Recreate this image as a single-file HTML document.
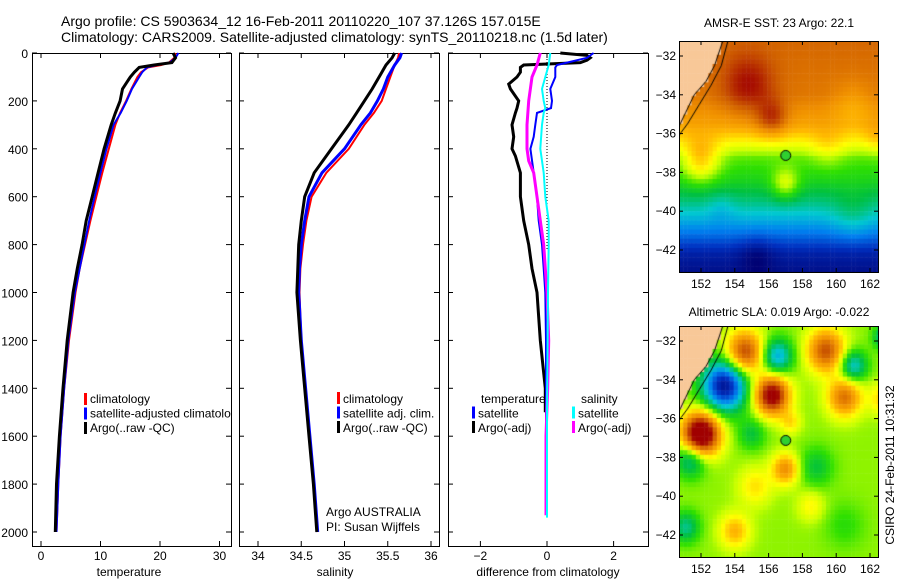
<!DOCTYPE html>
<html><head><meta charset="utf-8"><style>
html,body{margin:0;padding:0;background:#fff;}
#wrap{position:relative;width:900px;height:580px;overflow:hidden;font-family:"Liberation Sans",sans-serif;}
svg text{font-family:"Liberation Sans",sans-serif;}
canvas{position:absolute;}
</style></head><body>
<div id="wrap">
<canvas id="sst" width="200" height="231" style="left:679px;top:41px"></canvas>
<canvas id="sla" width="200" height="231" style="left:679px;top:326px"></canvas>
<svg id="fig" width="900" height="580" style="position:absolute;left:0;top:0" xmlns="http://www.w3.org/2000/svg">
<text x="61" y="26" font-size="14">Argo profile: CS 5903634_12 16-Feb-2011 20110220_107 37.126S 157.015E</text>
<text x="61" y="42" font-size="14">Climatology: CARS2009. Satellite-adjusted climatology: synTS_20110218.nc (1.5d later)</text>
<text x="779" y="27" font-size="12" text-anchor="middle">AMSR-E SST: 23 Argo: 22.1</text>
<text x="779" y="316" font-size="12" text-anchor="middle">Altimetric SLA: 0.019 Argo: -0.022</text>
<text x="0" y="0" font-size="12" text-anchor="middle" transform="translate(894,465) rotate(-90)">CSIRO 24-Feb-2011 10:31:32</text>
<g id="g"></g>
</svg>
</div>
<script>
// ---- data ----
const tDepth=[0,20,40,50,60,80,100,150,200,250,300,400,500,600,700,800,900,1000,1200,1400,1600,1800,2000];
const climT=[22.6,22.4,21.5,20.2,18.0,16.8,16.2,15.2,14.3,13.3,12.5,11.4,10.3,9.3,8.3,7.4,6.5,5.8,4.7,3.9,3.3,2.9,2.6];
const satT=[23.1,22.6,21.6,19.5,17.8,17.0,16.5,15.3,14.4,13.4,12.2,11.0,10.0,9.0,8.1,7.3,6.5,5.7,4.6,3.9,3.3,2.9,2.6];
const argoT=[22.2,22.6,22.0,19.0,16.5,15.7,15.0,13.7,13.3,12.5,11.8,10.6,9.6,8.6,7.6,6.9,6.1,5.4,4.4,3.7,3.1,2.6,2.4];
const sDepth=[0,20,50,100,150,200,250,300,400,500,600,700,800,900,1000,1200,1400,1600,1800,2000];
const climS=[35.63,35.62,35.58,35.53,35.48,35.43,35.34,35.23,35.05,34.79,34.62,34.56,34.52,34.49,34.48,34.5,34.55,34.6,34.65,34.69];
const satS=[35.66,35.64,35.58,35.50,35.45,35.38,35.30,35.19,35.00,34.74,34.59,34.54,34.50,34.48,34.47,34.5,34.55,34.6,34.65,34.69];
const argoS=[35.58,35.55,35.48,35.40,35.32,35.23,35.14,35.05,34.85,34.65,34.54,34.50,34.47,34.46,34.45,34.49,34.54,34.59,34.64,34.68];
const dArgoTDepth=[0,10,20,30,40,50,60,80,100,130,150,200,230,250,300,350,400,430,500,600,700,800,900,1000,1200,1400,1500];
const dArgoT=[0.4,1.2,1.3,1.2,1.0,-0.7,-0.8,-0.8,-0.9,-1.15,-1.1,-0.85,-0.9,-0.95,-1.05,-1.0,-1.05,-0.95,-0.8,-0.8,-0.7,-0.55,-0.45,-0.3,-0.2,-0.05,-0.05];
const dSatTDepth=[0,20,40,50,60,100,150,200,230,250,300,350,400,500,600,700,800,900,1000,1200,1400,1650];
const dSatT=[1.4,1.2,0.6,0.3,0.25,0.25,0.1,0.15,0.12,-0.3,-0.35,-0.4,-0.5,-0.4,-0.3,-0.25,-0.15,-0.1,-0.05,-0.03,-0.03,-0.03];
const dArgoSDepth=[0,50,100,200,300,400,450,500,600,700,800,900,1000,1200,1400,1600,1800,1930];
const dArgoS=[-0.2,-0.3,-0.45,-0.55,-0.6,-0.6,-0.55,-0.4,-0.3,-0.2,-0.1,-0.05,0,0.05,0.02,-0.03,-0.03,-0.03];
const dSatSDepth=[0,50,100,150,200,230,250,300,400,500,600,700,800,1000,1500,1940];
const dSatS=[0.1,0.05,-0.05,-0.15,-0.1,-0.05,-0.1,-0.15,-0.2,-0.1,-0.05,0.05,0.05,0.03,0.0,0.0];
const depthTicks=[0,200,400,600,800,1000,1200,1400,1600,1800,2000];
const tempTicks=[0,10,20,30];
const salTicks=[34,34.5,35,35.5,36];
const diffTicks=[-2,0,2];
const lonTicks=[152,154,156,158,160,162];
const latTicks=[-32,-34,-36,-38,-40,-42];

// ---- scales ----
const yD=d=>53+d*0.2395;
const xT=t=>41+t*5.95;
const xS=s=>258+(s-34)*86.5;
const xDf=v=>547+v*33.3;
const NS='http://www.w3.org/2000/svg';
const G=document.getElementById('g');
function el(tag,attrs,parent){const e=document.createElementNS(NS,tag);for(const k in attrs)e.setAttribute(k,attrs[k]);(parent||G).appendChild(e);return e;}
function line(xs,ys,col,w,name){
  const pts=xs.map((x,i)=>x.toFixed(1)+','+ys[i].toFixed(1)).join(' ');
  const p=el('polyline',{points:pts,fill:'none',stroke:col,'stroke-width':w,'stroke-linejoin':'miter'});
  
  
}
function txt(x,y,s,anchor,size,name){
  const t=el('text',{x:x,y:y,'font-size':size||12,'text-anchor':anchor||'start'});t.textContent=s;
  
  
  return t;
}
function frame(x0,x1,y0,y1,name,xticks,xf,yticks,yf,ylabels,ylx){
  const r=el('rect',{x:x0+0.5,y:y0+0.5,width:x1-x0,height:y1-y0,fill:'none',stroke:'#000','stroke-width':1});
  
  
  xticks.forEach(v=>{const x=xf(v);el('line',{x1:x,x2:x,y1:y1,y2:y1-5,stroke:'#000'});el('line',{x1:x,x2:x,y1:y0,y2:y0+5,stroke:'#000'});
    txt(x,y1+14,String(v).replace('-','\u2212'),'middle',12,'x-tick-label');});
  yticks.forEach(v=>{const y=yf(v);el('line',{x1:x0,x2:x0+5,y1:y,y2:y,stroke:'#000'});el('line',{x1:x1-5,x2:x1,y1:y,y2:y,stroke:'#000'});
    if(ylabels) txt(ylx,y+5,String(v).replace('-','\u2212'),'end',12,'y-tick-label');});
}
// panel 1
frame(32,231,53,546,'temperature-panel',tempTicks,xT,depthTicks,yD,true,28);
line(climT.map(xT),tDepth.map(yD),'#ff0000',2,'climatology-temp-line');
line(satT.map(xT),tDepth.map(yD),'#0000ff',2,'satellite-temp-line');
line(argoT.map(xT),tDepth.map(yD),'#000',3,'argo-temp-line');
txt(129,576,'temperature','middle',12,'x-axis-title-temperature');
// panel 2
frame(239,439,53,546,'salinity-panel',salTicks,xS,depthTicks,yD,false,0);
line(climS.map(xS),sDepth.map(yD),'#ff0000',2,'climatology-salinity-line');
line(satS.map(xS),sDepth.map(yD),'#0000ff',3,'satellite-salinity-line');
line(argoS.map(xS),sDepth.map(yD),'#000',3,'argo-salinity-line');
txt(335,576,'salinity','middle',12,'x-axis-title-salinity');
// panel 3
frame(448,648,53,546,'difference-panel',diffTicks,xDf,depthTicks,yD,false,0);
el('line',{x1:xDf(0),x2:xDf(0),y1:yD(0),y2:yD(820),stroke:'#000','stroke-dasharray':'1,2'});
line(dArgoT.map(xDf),dArgoTDepth.map(yD),'#000',3,'argo-temp-diff-line');
line(dSatT.map(xDf),dSatTDepth.map(yD),'#0000ff',2,'satellite-temp-diff-line');
line(dArgoS.map(xDf),dArgoSDepth.map(yD),'#ff00ff',3,'argo-salinity-diff-line');
line(dSatS.map(xDf),dSatSDepth.map(yD),'#00ffff',2,'satellite-salinity-diff-line');
txt(548,576,'difference from climatology','middle',12,'x-axis-title-difference');
// legends
function legItem(x,y,col,label,name){const r=el('rect',{x:x,y:y-11,width:3,height:12,fill:col});
  
  txt(x+6,y,label,'start',12,name+'-label');}
const g1=el('svg',{x:32,y:53,width:199,height:493,overflow:'hidden'});
['climatology','satellite-adjusted climatology','Argo(..raw -QC)'].forEach((s,i)=>{
  const c=['#ff0000','#0000ff','#000'][i];
  const r=el('rect',{x:52,y:340+i*14.5,width:3,height:12,fill:c},g1);
  
  const t=el('text',{x:58,y:350+i*14.5,'font-size':12},g1);t.textContent=s;
  
});
legItem(337,403,'#ff0000','climatology','legend-climatology-2');
legItem(337,417.5,'#0000ff','satellite adj. clim.','legend-satellite-2');
legItem(337,432,'#000','Argo(..raw -QC)','legend-argo-2');
txt(326,516,'Argo AUSTRALIA','start',12,'argo-australia-label');
txt(326,531,'PI: Susan Wijffels','start',12,'pi-label');
txt(481,403,'temperature','start',12,'legend-temperature-header');
txt(581,403,'salinity','start',12,'legend-salinity-header');
legItem(472,417.5,'#0000ff','satellite','legend-temp-satellite');
legItem(472,432,'#000','Argo(-adj)','legend-temp-argo');
legItem(572,417.5,'#00ffff','satellite','legend-sal-satellite');
legItem(572,432,'#ff00ff','Argo(-adj)','legend-sal-argo');

// ---- maps ----
const lonF=(lon)=>701+(lon-152)*16.9;
function mapAxes(x0,x1,y0,y1,latY,name){
  const r=el('rect',{x:x0+0.5,y:y0+0.5,width:x1-x0,height:y1-y0,fill:'none',stroke:'#000'});
  
  lonTicks.forEach(v=>{const x=lonF(v);el('line',{x1:x,x2:x,y1:y1,y2:y1-4,stroke:'#000'});el('line',{x1:x,x2:x,y1:y0,y2:y0+4,stroke:'#000'});
    txt(x,y1+16,String(v),'middle',12,'lon-tick-label');});
  latTicks.forEach(v=>{const y=latY(v);el('line',{x1:x0,x2:x0+4,y1:y,y2:y,stroke:'#000'});el('line',{x1:x1-4,x2:x1,y1:y,y2:y,stroke:'#000'});
    txt(x0-3,y+4,String(v).replace('-','\u2212'),'end',12,'lat-tick-label');});
}
const sstLat=l=>56+(-32-l)*19.4;
const slaLat=l=>341+(-32-l)*19.4;
mapAxes(679,878,41,272,sstLat,'sst-map-frame');
mapAxes(679,878,326,557,slaLat,'sla-map-frame');

const stops=[[0,'#000070'],[0.12,'#0030c0'],[0.22,'#0080f0'],[0.32,'#00c8d0'],[0.42,'#00c040'],[0.5,'#30e000'],[0.58,'#c8ff00'],[0.64,'#ffff00'],[0.72,'#ffb800'],[0.8,'#f09000'],[0.88,'#d06000'],[1,'#a00000']];
function hex(h){return [1,3,5].map(i=>parseInt(h.substr(i,2),16));}
function cmap(v){v=Math.max(0,Math.min(1,v));for(let i=1;i<stops.length;i++){if(v<=stops[i][0]){const a=stops[i-1],b=stops[i];const f=(v-a[0])/(b[0]-a[0]);const ca=hex(a[1]),cb=hex(b[1]);return 'rgb('+ca.map((c,k)=>Math.round(c+(cb[k]-c)*f)).join(',')+')';}}return stops[stops.length-1][1];}
// blobs: lon, lat, amplitude, radius(deg)
const sstLatBase=[[-31,0.87],[-34,0.84],[-35.5,0.76],[-36.3,0.66],[-37.3,0.52],[-38.5,0.46],[-39.5,0.38],[-40.3,0.3],[-41.2,0.2],[-42.2,0.08],[-43.5,0.02]];
const sstBlobs=[[154.8,-33.5,0.14,1.5],[156.2,-35.2,0.15,0.9],[152,-37.4,0.18,1.1],[157,-38.6,0.14,0.8],[159.5,-36.8,0.06,1.0],[162.5,-36.2,0.05,0.8],[161,-34.5,-0.06,1.2],[155.3,-42.3,-0.06,1],[161,-40.3,0.06,1.2],[153.2,-39.8,-0.04,0.8]];
const slaBlobs=[[152,-36.8,0.6,1.1],[153.4,-34.3,-0.5,1.3],[156.2,-34.8,0.5,1.0],[154.6,-32.6,0.38,1.1],[159.4,-32.5,0.35,1.1],[161,-33.3,-0.25,0.8],[160.5,-34.9,0.3,1.0],[156.5,-32.8,-0.28,0.9],[151.4,-38.1,-0.22,0.9],[157,-38.6,0.25,0.8],[158.8,-38.5,-0.12,1.0],[155.2,-39.5,0.12,1.0],[154,-41.8,0.18,0.9],[151.1,-41.6,-0.18,0.8],[162.8,-31.8,-0.2,0.6],[162.8,-35,0.15,0.8],[160.5,-41.5,-0.06,1.2],[158.5,-40.5,0.1,0.8],[155,-36.8,-0.12,0.8],[157.3,-36.2,0.12,0.6]];
function baseSST(lat){for(let i=1;i<sstLatBase.length;i++){if(lat>=sstLatBase[i][0]){const a=sstLatBase[i-1],b=sstLatBase[i];return a[1]+(b[1]-a[1])*(lat-a[0])/(b[0]-a[0]);}}return 0;}
function blobSum(bl,lon,lat){let s=0;bl.forEach(b=>{const d2=((lon-b[0])**2+(lat-b[1])**2)/(b[3]*b[3]);s+=b[2]*Math.exp(-d2);});return s;}
const coast=[[153.3,-31.2],[152.8,-32.5],[152.3,-33.3],[151.6,-34],[151.1,-34.9],[150.6,-35.8]];
const shelf=[[153.6,-31.2],[153.2,-32.5],[152.6,-33.5],[151.9,-34.5],[151.2,-35.5],[150.6,-36.2]];
function coastLon(lat){for(let i=1;i<coast.length;i++){if(lat>=coast[i][1]){const a=coast[i-1],b=coast[i];return a[0]+(b[0]-a[0])*(lat-a[1])/(b[1]-a[1]);}}return 150;}
function drawMap(id,top,latF,field){
  const c=document.getElementById(id).getContext('2d');
  const cw=4.2,ch=4.6;
  for(let py=0;py<231;py+=ch){for(let px=0;px<200;px+=cw){
    const lon=152+(679+px+cw/2-701)/16.9;
    const yy=top+py+ch/2;
    const lat=-32-(yy-latF(-32))/19.4;
    let col;
    if(lon<coastLon(lat)) col='#f8c898';
    else col=cmap(field(lon,lat));
    c.fillStyle=col;c.fillRect(px,py,cw+0.5,ch+0.5);
  }}
  c.strokeStyle='#000';c.lineWidth=1;
  [coast,shelf].forEach(L=>{c.beginPath();
  L.forEach((p,i)=>{const x=(lonF(p[0])-679),y=latF(p[1])-top;i?c.lineTo(x,y):c.moveTo(x,y);});c.stroke();});
  const mx=lonF(157.015)-679,my=latF(-37.126)-top;
  c.fillStyle='#30d030';c.beginPath();c.arc(mx,my,5,0,7);c.fill();c.stroke();
}
drawMap('sst',41,sstLat,(lon,lat)=>baseSST(lat)+blobSum(sstBlobs,lon,lat));
drawMap('sla',326,slaLat,(lon,lat)=>0.55+blobSum(slaBlobs,lon,lat));
</script>
</body></html>
